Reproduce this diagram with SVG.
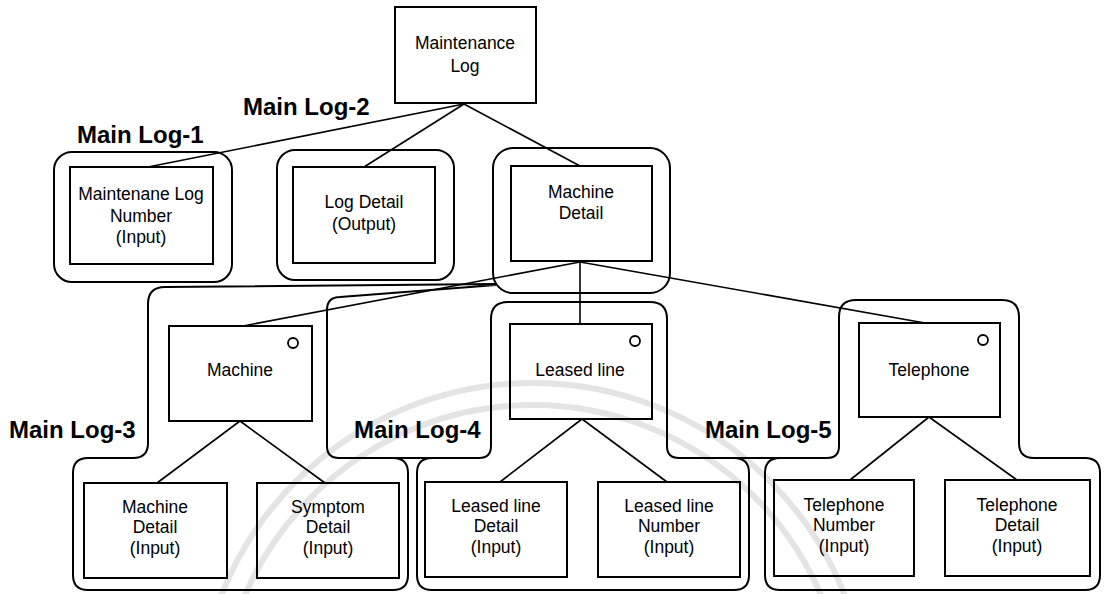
<svg xmlns="http://www.w3.org/2000/svg" width="1105" height="594" viewBox="0 0 1105 594">
<style>
.box{fill:none;stroke:#000;stroke-width:2}
.grp{fill:none;stroke:#000;stroke-width:2;stroke-linejoin:round}
.conn{fill:none;stroke:#000;stroke-width:1.6}
.wm{fill:none;stroke:#e4e4e4;stroke-width:6}
.t{font-family:"Liberation Sans",Arial,sans-serif;font-size:17.5px;text-anchor:middle;fill:#000}
.lbl{font-family:"Liberation Sans",Arial,sans-serif;font-size:24px;font-weight:bold;fill:#000}
.opt{fill:none;stroke:#000;stroke-width:1.8}
</style>
<rect width="1105" height="594" fill="#fff"/>
<g id="watermark">
<circle class="wm" cx="533" cy="718" r="335"/>
<circle class="wm" cx="533" cy="718" r="313"/>
</g>
<g id="outlines">
<rect id="grp-main-log-1" class="grp" x="54" y="152" width="178" height="130" rx="18"/>
<rect id="grp-main-log-2" class="grp" x="277" y="150" width="177" height="130" rx="18"/>
<rect id="grp-machine-detail" class="grp" x="493" y="148" width="177" height="145" rx="20"/>
<path id="grp-main-log-3" class="grp" d="M496,284 L165,287 Q148,287 148,304 L148,443 Q148,458 133,458 L88,458 Q73,458 73,473 L73,575 Q73,590 88,590 L393,590 Q408,590 408,575 L408,473 Q408,458 393,458 L339,458 Q327,458 327,446 L327,310 Q327,297 340,297 L496,285"/>
<path id="grp-main-log-4" class="grp" d="M393,458 L479,458 Q491,458 491,446 L491,319 Q491,302 508,302 L650,302 Q667,302 667,319 L667,446 Q667,458 679,458 L734,458 Q749,458 749,473 L749,575 Q749,590 734,590 L432,590 Q417,590 417,575 L417,473 Q417,458 432,458"/>
<path id="grp-main-log-5" class="grp" d="M734,458 L827,458 Q839,458 839,446 L839,317 Q839,300 856,300 L1002,300 Q1019,300 1019,317 L1019,443 Q1019,458 1034,458 L1085,458 Q1100,458 1100,473 L1100,575 Q1100,590 1085,590 L780,590 Q765,590 765,575 L765,473 Q765,458 780,458"/>
</g>
<g id="connectors">
<line class="conn" x1="464" y1="104" x2="148" y2="167"/>
<line class="conn" x1="464" y1="104" x2="364" y2="167"/>
<line class="conn" x1="464" y1="104" x2="580" y2="166"/>
<line class="conn" x1="580" y1="262" x2="243" y2="326"/>
<line class="conn" x1="580" y1="262" x2="580" y2="324"/>
<line class="conn" x1="580" y1="262" x2="925" y2="323"/>
<line class="conn" x1="240" y1="421" x2="157" y2="483"/>
<line class="conn" x1="240" y1="421" x2="325" y2="483"/>
<line class="conn" x1="582" y1="419" x2="500" y2="482"/>
<line class="conn" x1="582" y1="419" x2="667" y2="482"/>
<line class="conn" x1="929" y1="417" x2="850" y2="480"/>
<line class="conn" x1="929" y1="417" x2="1017" y2="480"/>
</g>
<g id="labels">
<text class="lbl" x="243" y="115">Main Log-2</text>
<text class="lbl" x="77" y="143">Main Log-1</text>
<text class="lbl" x="9" y="438">Main Log-3</text>
<text class="lbl" x="354" y="438">Main Log-4</text>
<text class="lbl" x="705" y="438">Main Log-5</text>
</g>
<g id="maintenance-log">
<rect class="box" x="395" y="7" width="141" height="96"/>
<text class="t" x="465" y="49">Maintenance</text>
<text class="t" x="465" y="72">Log</text>
</g>
<g id="maintenance-log-number">
<rect class="box" x="70" y="167" width="143" height="97"/>
<text class="t" x="141" y="200">Maintenane Log</text>
<text class="t" x="141" y="222">Number</text>
<text class="t" x="141" y="243">(Input)</text>
</g>
<g id="log-detail">
<rect class="box" x="293" y="167" width="142" height="96"/>
<text class="t" x="364" y="208">Log Detail</text>
<text class="t" x="364" y="230">(Output)</text>
</g>
<g id="machine-detail">
<rect class="box" x="511" y="166" width="141" height="95"/>
<text class="t" x="581" y="198">Machine</text>
<text class="t" x="581" y="219">Detail</text>
</g>
<g id="machine">
<rect class="box" x="169" y="326" width="143" height="95"/>
<circle class="opt" cx="293" cy="343" r="5"/>
<text class="t" x="240" y="376">Machine</text>
</g>
<g id="leased-line">
<rect class="box" x="510" y="324" width="142" height="95"/>
<circle class="opt" cx="635" cy="341" r="5"/>
<text class="t" x="580" y="376">Leased line</text>
</g>
<g id="telephone">
<rect class="box" x="859" y="323" width="141" height="94"/>
<circle class="opt" cx="983" cy="340" r="5"/>
<text class="t" x="929" y="376">Telephone</text>
</g>
<g id="machine-detail-input">
<rect class="box" x="84" y="483" width="143" height="95"/>
<text class="t" x="155" y="513">Machine</text>
<text class="t" x="155" y="533">Detail</text>
<text class="t" x="155" y="554">(Input)</text>
</g>
<g id="symptom-detail">
<rect class="box" x="257" y="483" width="142" height="95"/>
<text class="t" x="328" y="513">Symptom</text>
<text class="t" x="328" y="533">Detail</text>
<text class="t" x="328" y="554">(Input)</text>
</g>
<g id="leased-line-detail">
<rect class="box" x="425" y="482" width="142" height="95"/>
<text class="t" x="496" y="512">Leased line</text>
<text class="t" x="496" y="532">Detail</text>
<text class="t" x="496" y="553">(Input)</text>
</g>
<g id="leased-line-number">
<rect class="box" x="598" y="482" width="142" height="95"/>
<text class="t" x="669" y="512">Leased line</text>
<text class="t" x="669" y="532">Number</text>
<text class="t" x="669" y="553">(Input)</text>
</g>
<g id="telephone-number">
<rect class="box" x="774" y="480" width="140" height="96"/>
<text class="t" x="844" y="511">Telephone</text>
<text class="t" x="844" y="531">Number</text>
<text class="t" x="844" y="552">(Input)</text>
</g>
<g id="telephone-detail">
<rect class="box" x="945" y="480" width="145" height="96"/>
<text class="t" x="1017" y="511">Telephone</text>
<text class="t" x="1017" y="531">Detail</text>
<text class="t" x="1017" y="552">(Input)</text>
</g>
</svg>
